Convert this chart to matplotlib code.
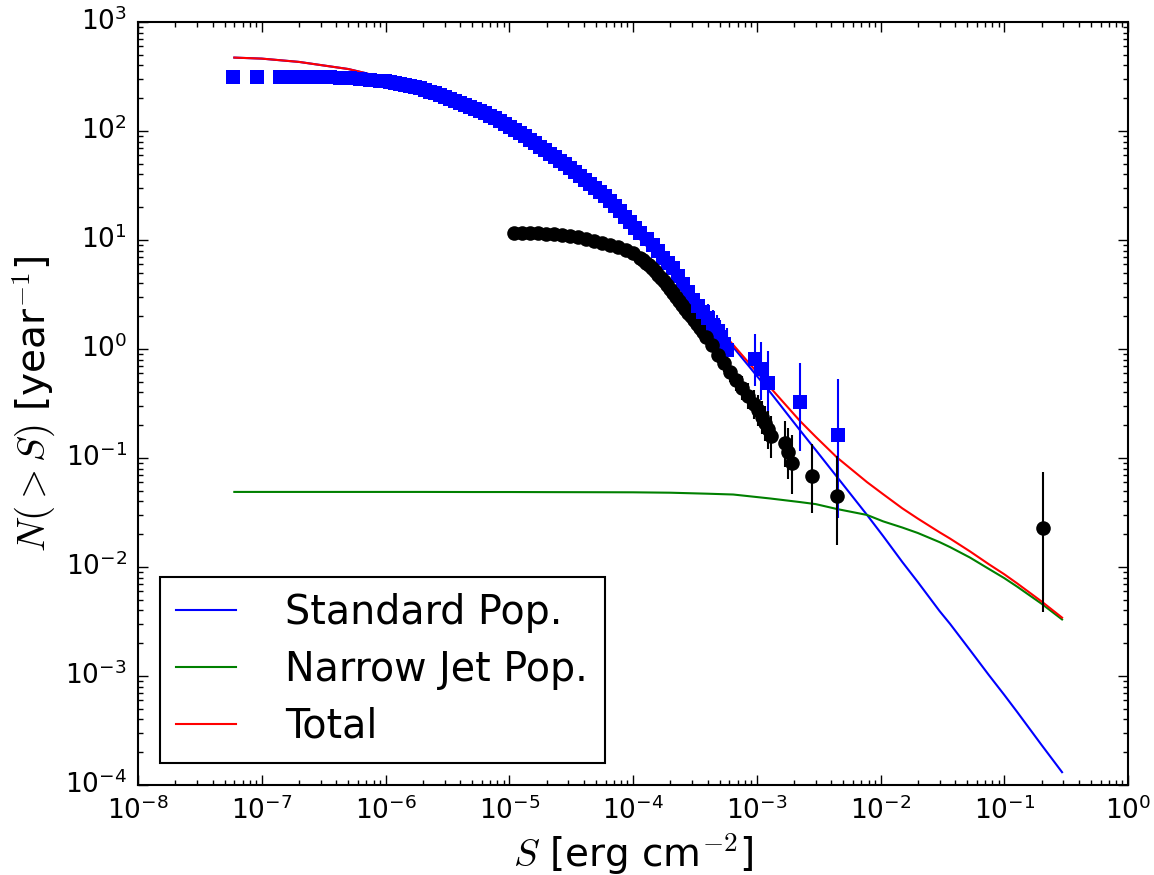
import numpy as np
import matplotlib
matplotlib.use("Agg")
import matplotlib.pyplot as plt

plt.style.use('classic')
plt.rcParams['figure.facecolor'] = 'white'
plt.rcParams['savefig.facecolor'] = 'white'
plt.rcParams['mathtext.fontset'] = 'cm'
plt.rcParams['font.family'] = 'DejaVu Sans'

# model curves
mod_S = [6.0e-8, 1e-7, 2e-7, 5e-7, 7e-7, 1e-6, 2e-6, 5e-6, 1e-5, 2e-5, 5e-5, 1e-4, 2e-4, 4e-4,
         6.45e-4, 1.28e-3, 2.23e-3, 3e-3, 4.45e-3, 7.78e-3, 1.05e-2, 1.5e-2, 2e-2, 3e-2,
         3.65e-2, 5.28e-2, 7.5e-2, 0.1, 0.127, 0.2, 0.293]
std_N = [471, 461, 430, 370, 338, 295, 235, 158, 112, 66, 27, 11.75, 5.35, 1.95,
         1.04, 0.403, 0.18, 0.118, 0.067, 0.030, 0.0192, 0.0111, 0.00728, 0.00394,
         0.0030, 0.00173, 0.00102, 6.7e-4, 4.68e-4, 2.33e-4, 1.31e-4]
jet_N = [0.0488, 0.0488, 0.0488, 0.0488, 0.0488, 0.0488, 0.0488, 0.0487, 0.0487, 0.0486, 0.0485, 0.0484, 0.0480, 0.0470,
         0.0462, 0.0425, 0.0394, 0.0377, 0.0340, 0.0300, 0.0262, 0.0230, 0.0205, 0.0169,
         0.0152, 0.0122, 0.0096, 0.0079, 0.0066, 0.0046, 0.0033]
tot_N = [471, 461, 430, 370, 338, 295, 235, 158, 112, 66, 27, 11.8, 5.4, 2.0,
         1.09, 0.445, 0.219, 0.156, 0.101, 0.060, 0.0465, 0.0345, 0.0278, 0.0208,
         0.0182, 0.0139, 0.0106, 0.00857, 0.00707, 0.00483, 0.00343]

# standard sample, cumulative
blue_S = [5.86e-8, 9.15e-8, 1.404e-7, 1.692e-7, 2.038e-7, 2.455e-7, 2.957e-7, 3.561e-7, 4.290e-7,
          5.166e-7, 6.223e-7, 7.496e-7, 9.028e-7, 9.91e-7, 1.087e-6, 1.193e-6, 1.310e-6, 1.438e-6,
          1.578e-6, 1.731e-6, 1.900e-6, 2.085e-6, 2.289e-6, 2.512e-6, 2.757e-6, 3.026e-6,
          3.321e-6, 3.644e-6, 4.000e-6, 4.389e-6, 4.818e-6, 5.286e-6, 5.803e-6, 6.368e-6,
          6.990e-6, 7.669e-6, 8.419e-6, 9.24e-6, 1.014e-5, 1.113e-5, 1.221e-5, 1.341e-5,
          1.471e-5, 1.615e-5, 1.772e-5, 1.945e-5, 2.134e-5, 2.343e-5, 2.571e-5, 2.822e-5,
          3.097e-5, 3.399e-5, 3.730e-5, 4.094e-5, 4.493e-5, 4.931e-5, 5.412e-5, 5.94e-5,
          6.518e-5, 7.15e-5, 7.851e-5, 8.62e-5, 9.457e-5, 1.038e-4, 1.139e-4, 1.297e-4,
          1.451e-4, 1.593e-4, 1.748e-4, 1.918e-4, 2.104e-4, 2.310e-4, 2.535e-4, 2.782e-4,
          3.053e-4]
blue_N = [313, 313, 313, 313, 313, 313, 313, 313, 306,
          306, 300, 294, 288, 284.5, 282, 275.6, 270, 264.2,
          259, 253.3, 248, 237.8, 228, 220.8, 214, 205.1,
          197, 188.5, 181, 173.2, 166, 159.2, 153, 144.7,
          137, 130.2, 123.5, 116.0, 108.8, 102.1, 95.9, 89.0,
          82.7, 76.8, 71.3, 66.2, 61.5, 57.1, 53.1, 49.3,
          45.8, 42.1, 38.6, 35.5, 32.7, 30.0, 27.6, 25.1,
          22.8, 20.5, 18.5, 16.4, 14.6, 13.0, 11.6, 10.2,
          9.0, 7.93, 6.84, 6.15, 5.54, 4.67, 3.95, 3.33,
          2.82]

blue_tS = [3.350e-4, 3.677e-4, 4.036e-4, 4.430e-4, 4.773e-4, 5.047e-4, 5.437e-4, 5.749e-4,
           9.7e-4, 1.08e-3, 1.23e-3, 2.23e-3, 4.54e-3]
blue_tN = [2.48, 2.18, 1.93, 1.66, 1.46, 1.29, 1.11, 0.98, 0.81, 0.65, 0.49, 0.327, 0.163]
blue_lo = [0.62, 0.57, 0.54, 0.49, 0.47, 0.43, 0.41, 0.39, 0.35, 0.31, 0.27, 0.21, 0.135]
blue_hi = [0.76, 0.70, 0.68, 0.62, 0.60, 0.56, 0.57, 0.58, 0.56, 0.52, 0.47, 0.42, 0.37]

# second sample
black_S = [1.092e-5, 1.268e-5, 1.471e-5, 1.707e-5, 1.982e-5, 2.300e-5, 2.669e-5, 3.097e-5,
           3.594e-5, 4.171e-5, 4.839e-5, 5.617e-5, 6.518e-5, 7.564e-5, 8.777e-5, 1.000e-4,
           1.139e-4, 1.205e-4, 1.273e-4, 1.347e-4, 1.424e-4, 1.506e-4, 1.593e-4, 1.684e-4,
           1.780e-4, 1.883e-4, 1.991e-4, 2.104e-4, 2.226e-4, 2.352e-4, 2.489e-4, 2.631e-4,
           2.782e-4, 2.942e-4, 3.111e-4, 3.290e-4, 3.478e-4, 3.677e-4]
black_N = [11.6, 11.6, 11.6, 11.6, 11.35, 11.35, 11.11, 10.88,
           10.65, 10.21, 9.79, 9.39, 9.0, 8.63, 8.09, 7.60,
           6.84, 6.49, 6.15, 5.84, 5.54, 5.14, 4.78, 4.48,
           4.21, 3.87, 3.55, 3.27, 3.00, 2.76, 2.53, 2.33,
           2.14, 1.99, 1.85, 1.70, 1.56, 1.42]

black_tS = [3.890e-4, 4.349e-4, 4.862e-4, 5.437e-4, 6.079e-4, 6.797e-4, 7.600e-4, 8.498e-4,
            9.501e-4, 1.023e-3, 1.103e-3, 1.166e-3, 1.233e-3, 1.304e-3, 1.692e-3, 1.789e-3,
            1.927e-3, 2.796e-3, 4.452e-3, 0.2056]
black_tN = [1.29, 1.09, 0.881, 0.744, 0.615, 0.519, 0.439, 0.371,
            0.313, 0.276, 0.238, 0.209, 0.185, 0.159, 0.137, 0.113,
            0.090, 0.068, 0.0448, 0.0228]
black_lo = [0.17, 0.155, 0.14, 0.13, 0.117, 0.108, 0.099, 0.091,
            0.083, 0.078, 0.072, 0.067, 0.063, 0.059, 0.055, 0.049,
            0.043, 0.037, 0.029, 0.0189]
black_hi = [0.19, 0.18, 0.165, 0.15, 0.14, 0.13, 0.124, 0.116,
            0.108, 0.102, 0.096, 0.092, 0.087, 0.085, 0.080, 0.076,
            0.072, 0.066, 0.060, 0.0518]

fig = plt.figure(figsize=(11.54, 8.75), dpi=100)
ax = fig.add_axes([0.1196, 0.1029, 0.8579, 0.872])

l1, = ax.plot(mod_S, std_N, 'b-', lw=1.5, label='Standard Pop.')
l2, = ax.plot(mod_S, jet_N, 'g-', lw=1.5, label='Narrow Jet Pop.')
l3, = ax.plot(mod_S, tot_N, 'r-', lw=1.5, label='Total')

ax.plot(blue_S, blue_N, 's', color='b', mec='b', mew=0, ms=10)
ax.errorbar(blue_tS, blue_tN, yerr=[blue_lo, blue_hi], fmt='s', color='b', mec='b', mew=0,
            ms=10, capsize=3.5, elinewidth=1.5, capthick=1.5)
ax.plot(black_S, black_N, 'o', color='k', mec='k', mew=0, ms=10.5)
ax.errorbar(black_tS, black_tN, yerr=[black_lo, black_hi], fmt='o', color='k', mec='k', mew=0,
            ms=10.5, capsize=3.5, elinewidth=1.5, capthick=1.5)

ax.set_xscale('log')
ax.set_yscale('log')
ax.set_xlim(1e-8, 1)
ax.set_ylim(1e-4, 1e3)
ax.tick_params(which='major', length=7, width=1, labelsize=19, pad=8)
ax.tick_params(which='minor', length=3.5, width=1)
for s in ax.spines.values():
    s.set_linewidth(1.5)

ax.set_xlabel(r'$S$ [erg cm$^{-2}$]', fontsize=28)
ax.set_ylabel(r'$N(>S)$ [year$^{-1}$]', fontsize=28)

leg = ax.legend(handles=[l1, l2, l3], loc='lower left', fontsize=28.5, numpoints=1,
                handlelength=1.5, handletextpad=1.25, borderpad=0.42, labelspacing=0.42,
                borderaxespad=0.55, fancybox=False)
leg.get_frame().set_edgecolor('k')
leg.get_frame().set_linewidth(1.5)

fig.savefig('out.png', dpi=100)
